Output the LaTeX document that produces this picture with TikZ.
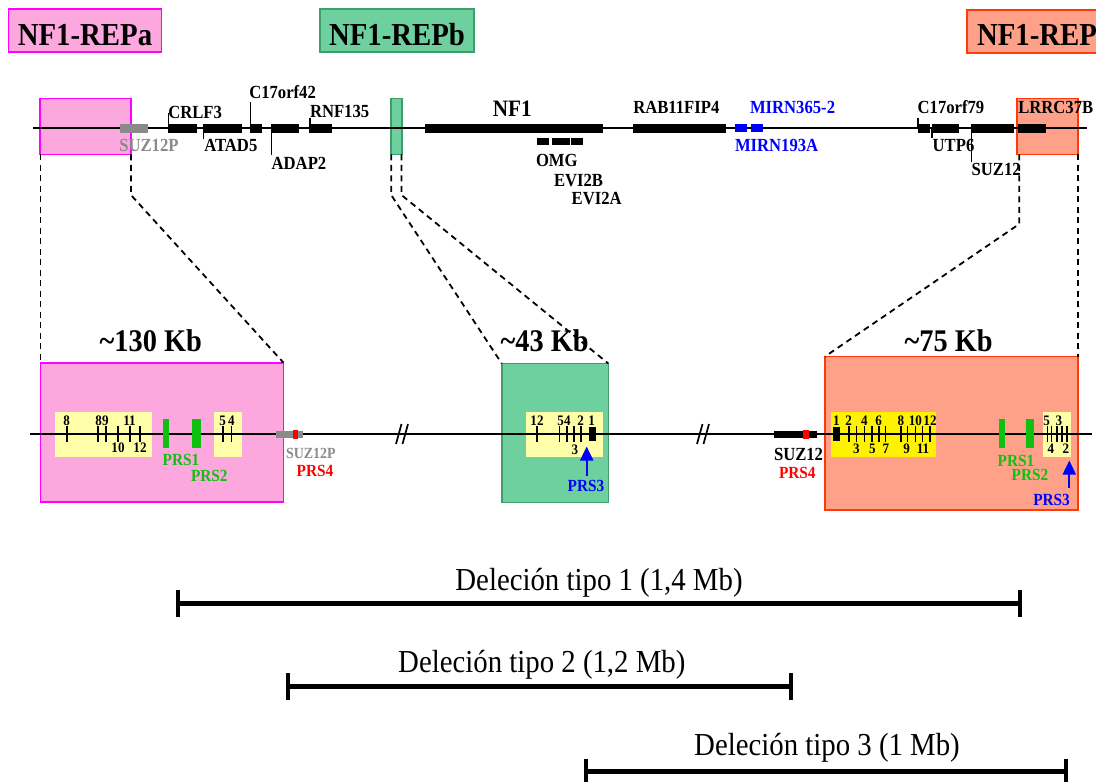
\documentclass[tikz,border=0pt]{standalone}
\usepackage{fontspec}
\setmainfont[FakeStretch=0.9]{Liberation Serif}
\usetikzlibrary{arrows.meta}
\definecolor{pinkf}{HTML}{FCA8DF}
\definecolor{pinkb}{HTML}{FF00FF}
\definecolor{greenf}{HTML}{6ECF9F}
\definecolor{greenb}{HTML}{3F9D6C}
\definecolor{orf}{HTML}{FFA088}
\definecolor{orb}{HTML}{FF3A0A}
\definecolor{paley}{HTML}{FFFFAA}
\definecolor{brighty}{HTML}{FFF200}
\definecolor{prsg}{HTML}{10C010}
\definecolor{greyg}{HTML}{8A8A8A}
\definecolor{mirblue}{HTML}{0000FF}
\definecolor{prsred}{HTML}{FF0000}
\tikzset{
  every node/.style={inner sep=0pt, outer sep=0pt},
  gl/.style={anchor=base west, font=\fontsize{18.5}{20}\selectfont\bfseries},
  ex/.style={anchor=base, font=\fontsize{14.5}{15}\selectfont\bfseries},
  prs/.style={anchor=base west, font=\fontsize{17}{18}\selectfont\bfseries},
  kb/.style={anchor=base, font=\fontsize{31.5}{32}\selectfont\bfseries},
  ttl/.style={anchor=base, font=\fontsize{32}{34}\selectfont\bfseries},
  del/.style={anchor=base, font=\fontsize{32}{34}\selectfont},
  chrom/.style={line width=2.2pt},
  etick/.style={line width=1.6pt},
  gtick/.style={line width=1.2pt},
  zline/.style={line width=1.8pt, dash pattern=on 6pt off 4.5pt},
  delbar/.style={line width=5pt},
  delend/.style={line width=4.5pt},
  slash/.style={line width=1.7pt},
  parrow/.style={mirblue, line width=2pt, -{Triangle[width=13pt,length=14pt]}},
  pinkbox/.style={fill=pinkf, draw=pinkb, line width=1.6pt},
  greenbox/.style={fill=greenf, draw=greenb, line width=1.6pt},
  orbox/.style={fill=orf, draw=orb, line width=1.6pt},
}
\begin{document}
\begin{tikzpicture}[x=1pt,y=-1pt]
\useasboundingbox (0,0) rectangle (1096,782);
\clip (0,0) rectangle (1096,782);

% ---------- title boxes ----------
\filldraw[pinkbox] (8.5,9) rectangle (161.5,52);
\node[ttl] (ta) at (85,45) {NF1-REPa};
\filldraw[greenbox] (320,9) rectangle (474,52);
\node[ttl] (tb) at (397,45) {NF1-REPb};
\filldraw[orbox] (967,10) rectangle (1130,53);
\node[ttl, anchor=base west] (tc) at (977,45.5) {NF1-REP};

% ---------- top region boxes ----------
\filldraw[pinkbox] (40,98.3) rectangle (131,154.3);
\filldraw[greenbox] (390.7,98.3) rectangle (401.7,154.3);
\filldraw[orbox] (1016.7,98.3) rectangle (1077.7,154.3);
\coordinate (pa1) at (40.5,154.3);
\coordinate (pa2) at (131,154.3);
\coordinate (pa2b) at (131,195);
\coordinate (gb1) at (391.2,154.3);
\coordinate (gb1b) at (391.2,195);
\coordinate (gb2) at (401.5,154.3);
\coordinate (gb2b) at (401.5,195);
\coordinate (oc1) at (1019.3,154.3);
\coordinate (oc1b) at (1019.3,224);
\coordinate (oc2) at (1077.7,154.3);

% ---------- top chromosome ----------
\coordinate (tl) at (33,128);
\coordinate (tr) at (1087,128);
\draw[chrom] (tl) -- (tr);

% gene bars
\fill[greyg] (120,123.5) rectangle (147.7,132.5);
\fill (168.3,123.5) rectangle (196.7,132.5);
\fill (203.3,123.5) rectangle (241.7,132.5);
\fill (250,123.5) rectangle (261.7,132.5);
\fill (271,123.5) rectangle (299,132.5);
\fill (309.3,123.5) rectangle (332.3,132.5);
\fill (425,123.5) rectangle (603.3,132.5);
\fill (633.3,123.5) rectangle (726,132.5);
\fill[mirblue] (735,124.3) rectangle (746.7,132.3);
\fill[mirblue] (751,124.3) rectangle (762.7,132.3);
\fill (917.7,123.5) rectangle (930,132.5);
\fill (931.7,123.5) rectangle (959.3,132.5);
\fill (971,123.5) rectangle (1014,132.5);
\fill (1018.3,123.5) rectangle (1046,132.5);
\fill (536.7,137.7) rectangle (549,145);
\fill (552.3,137.7) rectangle (569.5,145);
\fill (570.5,137.7) rectangle (583.3,145);

% gene ticks
\draw[gtick] (168.3,112.5) -- (168.3,128);
\draw[gtick] (203.8,128) -- (203.8,139);
\draw[gtick] (250.3,101.7) -- (250.3,128);
\draw[gtick] (271.5,128) -- (271.5,155);
\draw[gtick] (310,117.7) -- (310,128);
\draw[gtick] (918,117.7) -- (918,128);
\draw[gtick] (932,128) -- (932,138.3);
\draw[gtick] (971.5,128) -- (971.5,161.7);

% gene labels
\node[gl, greyg] (lsuzp) at (119.3,151.5) {SUZ12P};
\node[gl] (lcrlf) at (168.3,118) {CRLF3};
\node[gl] (latad) at (204.3,151.5) {ATAD5};
\node[gl] (lc17a) at (249.3,98) {C17orf42};
\node[gl] (ladap) at (271.7,169) {ADAP2};
\node[gl] (lrnf) at (310,117) {RNF135};
\node[anchor=base, font=\fontsize{23.5}{25}\selectfont\bfseries] (lnf1) at (512.2,116) {NF1};
\node[gl] (lomg) at (536,166.5) {OMG};
\node[gl] (levib) at (554,186.5) {EVI2B};
\node[gl] (levia) at (571.7,204) {EVI2A};
\node[gl] (lrab) at (633.3,113.5) {RAB11FIP4};
\node[gl, mirblue] (lmir365) at (750,113.3) {MIRN365-2};
\node[gl, mirblue] (lmir193) at (735,151.5) {MIRN193A};
\node[gl] (lc17b) at (917.7,113.3) {C17orf79};
\node[gl] (lutp) at (932.7,151.5) {UTP6};
\node[gl] (lsuz) at (971.7,175) {SUZ12};
\node[gl] (llrrc) at (1018.3,113.3) {LRRC37B};

% ---------- bottom boxes ----------
\filldraw[pinkbox] (40.5,362.7) rectangle (283.5,502);
\filldraw[greenbox] (501.7,363.5) rectangle (608.3,502.5);
\filldraw[orbox] (825,356.5) rectangle (1077.7,510);
\coordinate (PA1) at (40.5,362.7);
\coordinate (PA2) at (283.5,362.7);
\coordinate (GB1) at (501.7,363.5);
\coordinate (GB2) at (608.3,363.5);
\coordinate (OC1) at (825,356.5);
\coordinate (OC2) at (1077.7,356.5);

% zoom lines
\draw[zline] (pa1) -- (PA1);
\draw[zline] (pa2) -- (pa2b) -- (PA2);
\draw[zline] (gb1) -- (gb1b) -- (GB1);
\draw[zline] (gb2) -- (gb2b) -- (GB2);
\draw[zline] (oc1) -- (oc1b) -- (OC1);
\draw[zline] (oc2) -- (OC2);

% size labels
\node[kb] (k130) at (150.8,351.5) {\textasciitilde130 Kb};
\node[kb] (k43) at (544.7,351.5) {\textasciitilde43 Kb};
\node[kb] (k75) at (948.7,351.5) {\textasciitilde75 Kb};

% yellow exon boxes
\fill[paley] (55,412.3) rectangle (151.7,456.7);
\fill[paley] (214,412.3) rectangle (242.3,456.7);
\fill[paley] (525.7,411.7) rectangle (603,456.7);
\fill[brighty] (830.7,411.7) rectangle (935.7,456.7);
\fill[paley] (1042.7,411.7) rectangle (1071,456.7);

% bottom chromosome
\coordinate (bl) at (30,434);
\coordinate (br) at (1092,434);
\draw[chrom] (bl) -- (br);

% break marks
\draw[slash] (396,444) -- (401.5,424);
\draw[slash] (402.5,444) -- (408,424);
\draw[slash] (697,444) -- (702.5,424);
\draw[slash] (703.5,444) -- (709,424);

% ---- REPa contents ----
\foreach \x in {66.7,97.7,105.7,117.7,129.7,139.7,222.7,231.3}
  \draw[etick] (\x,426) -- (\x,442);
\node[ex] (a8) at (66.7,425) {8};
\node[ex] (a89) at (102,425) {89};
\node[ex] (a11) at (129.5,425) {11};
\node[ex] (a10) at (118,452.5) {10};
\node[ex] (a12) at (140,452.5) {12};
\node[ex] (a5) at (222.7,425) {5};
\node[ex] (a4) at (231.3,425) {4};
\fill[prsg] (162.7,419) rectangle (169,448);
\fill[prsg] (192,419) rectangle (201,448);
\node[prs, prsg] (ap1) at (162.7,465) {PRS1};
\node[prs, prsg] (ap2) at (191,481) {PRS2};
\fill[greyg] (275.7,430.5) rectangle (303,438);
\fill[prsred] (293,430) rectangle (298,438.5);
\node[anchor=base west, font=\fontsize{15.5}{17}\selectfont\bfseries, greyg] (asuzp) at (286,458) {SUZ12P};
\node[prs, prsred] (ap4) at (296.7,476.5) {PRS4};

% ---- REPb contents ----
\foreach \x in {536.7,559.3,566.7,574,580.7}
  \draw[etick] (\x,426) -- (\x,442);
\fill (589,427) rectangle (595.7,440.5);
\node[ex] (b12) at (537,425) {12};
\node[ex] (b54) at (564,425) {54};
\node[ex] (b2) at (580.7,425) {2};
\node[ex] (b1) at (591.7,425) {1};
\node[ex] (b3) at (575,454) {3};
\coordinate (bp3s) at (586.7,476);
\coordinate (bp3e) at (586.7,446.5);
\draw[parrow] (bp3s) -- (bp3e);
\node[prs, anchor=base, mirblue] (bp3) at (586,491.5) {PRS3};

% ---- REPc contents ----
\fill (774,430.5) rectangle (816.7,438);
\fill[prsred] (803.3,429.5) rectangle (808.7,439);
\node[gl] (csuz) at (774,460) {SUZ12};
\node[prs, prsred] (cp4) at (779,478) {PRS4};
\fill (833,427) rectangle (840,440.5);
\foreach \x in {848.7,856.3,864.3,871.7,878.7,885.3,901,907.5,915.3,922.3,929.7}
  \draw[etick] (\x,426) -- (\x,442);
\node[ex] (c1) at (836.5,425) {1};
\node[ex] (c2) at (848.7,425) {2};
\node[ex] (c4) at (864.3,425) {4};
\node[ex] (c6) at (878.7,425) {6};
\node[ex] (c8) at (901,425) {8};
\node[ex] (c10) at (915.3,425) {10};
\node[ex] (c12) at (930,425) {12};
\node[ex] (c3) at (856.3,453) {3};
\node[ex] (c5) at (872.3,453) {5};
\node[ex] (c7) at (886,453) {7};
\node[ex] (c9) at (906.7,453) {9};
\node[ex] (c11) at (923,453) {11};
\fill[prsg] (998.7,419) rectangle (1005,448);
\fill[prsg] (1025.7,419) rectangle (1034,448);
\node[prs, prsg] (cp1) at (997.7,466) {PRS1};
\node[prs, prsg] (cp2) at (1011.7,480.5) {PRS2};
\foreach \x in {1047.3,1051.3,1056.7,1061.7,1066.7}
  \draw[etick] (\x,426) -- (\x,442);
\node[ex] (cc5) at (1046.7,425) {5};
\node[ex] (cc3) at (1059,425) {3};
\node[ex] (cc4) at (1051,453) {4};
\node[ex] (cc2) at (1066,453) {2};
\coordinate (cp3s) at (1069.3,487.5);
\coordinate (cp3e) at (1069.3,460.5);
\draw[parrow] (cp3s) -- (cp3e);
\node[prs, mirblue] (cp3) at (1033.3,505.5) {PRS3};

% ---------- deletions ----------
\coordinate (d1a) at (178,603);
\coordinate (d1b) at (1020,603);
\draw[delbar] (d1a) -- (d1b);
\draw[delend] (178,590) -- (178,617);
\draw[delend] (1020,590) -- (1020,617);
\node[del] (t1) at (599,590) {Deleción tipo 1 (1,4 Mb)};

\coordinate (d2a) at (288,686);
\coordinate (d2b) at (791,686);
\draw[delbar] (d2a) -- (d2b);
\draw[delend] (288,673) -- (288,699.5);
\draw[delend] (791,673) -- (791,699.5);
\node[del] (t2) at (541.8,672) {Deleción tipo 2 (1,2 Mb)};

\coordinate (d3a) at (586,771.5);
\coordinate (d3b) at (1066,771.5);
\draw[delbar] (d3a) -- (d3b);
\draw[delend] (586,759) -- (586,790);
\draw[delend] (1066,759) -- (1066,790);
\node[del] (t3) at (827,755) {Deleción tipo 3 (1 Mb)};
\end{tikzpicture}
\end{document}
